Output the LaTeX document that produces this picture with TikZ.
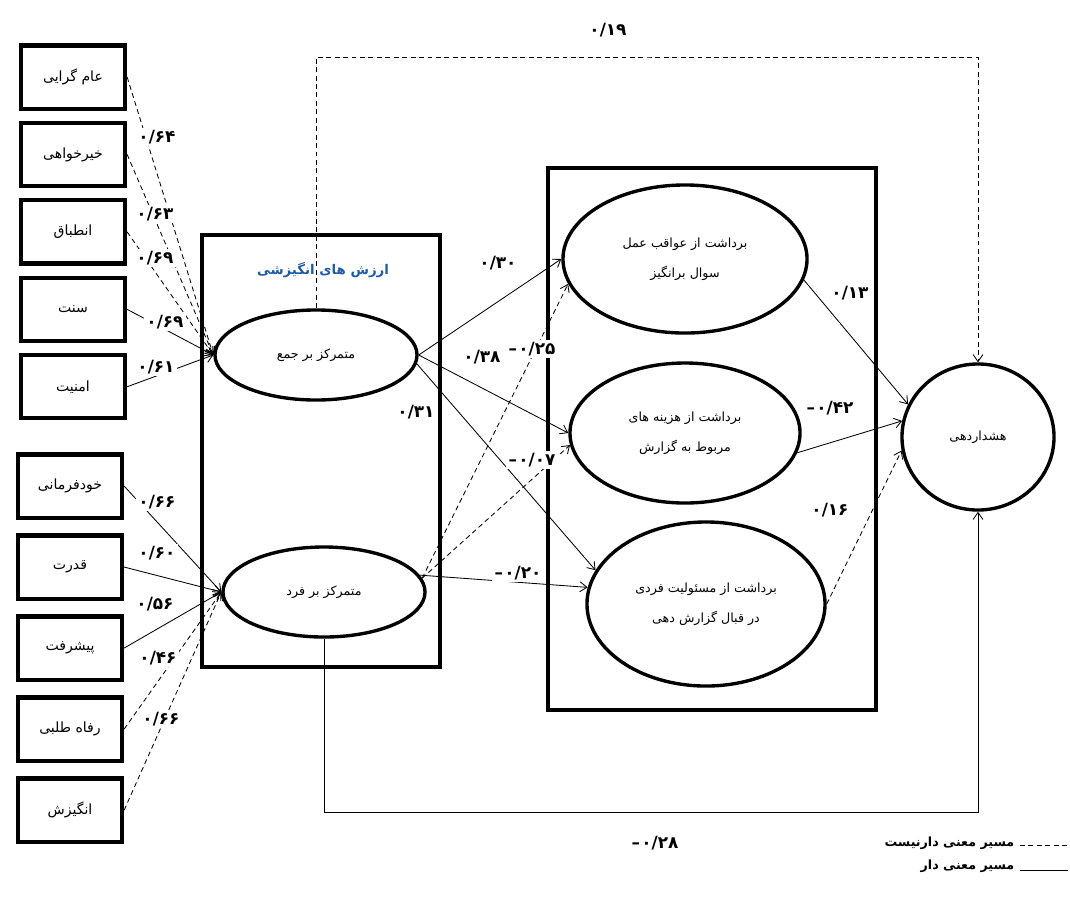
\documentclass[tikz,border=0pt]{standalone}
\usepackage{fontspec}
\newfontfamily\farsifont[Script=Arabic]{DejaVu Sans}
\newfontfamily\signfont{DejaVu Sans}
\TeXXeTstate=1
\newcommand{\fatext}[1]{\beginR#1\endR}
\newcommand{\negnum}[1]{{\signfont\bfseries –}\kern1pt#1}
\usetikzlibrary{arrows.meta, positioning, shapes.geometric}
\definecolor{titleblue}{HTML}{1F5AA6}

\begin{document}
\begin{tikzpicture}[
  x=0.025cm, y=-0.025cm,
  node distance=0.25cm,
  idxbox/.style={draw, line width=3pt, minimum width=2.6cm, minimum height=1.58cm, inner sep=2pt, font=\farsifont\fontsize{10}{12}\selectfont},
  groupbox/.style={draw, line width=2.6pt, inner sep=0pt},
  latent/.style={draw, ellipse, line width=2.4pt, inner sep=0pt, align=center, font=\farsifont\fontsize{9}{21}\selectfont},
  coef/.style={fill=white, inner sep=1.5pt, font=\farsifont\bfseries\fontsize{12}{14}\selectfont},
  sig/.style={-{Straight Barb[length=5pt,width=7pt]}, line width=0.6pt},
  nonsig/.style={sig, dash pattern=on 3.5pt off 2.5pt},
  legendtext/.style={inner sep=1pt, font=\farsifont\bfseries\fontsize{9}{11}\selectfont}
]
  \useasboundingbox (0,0) rectangle (1070,897);

  \node[idxbox] (amgarayi) at (73,77) {\fatext{عام گرایی}};
  \node[idxbox, below=of amgarayi] (kheirkhahi) {\fatext{خیرخواهی}};
  \node[idxbox, below=of kheirkhahi] (entebagh) {\fatext{انطباق}};
  \node[idxbox, below=of entebagh] (sonnat) {\fatext{سنت}};
  \node[idxbox, below=of sonnat] (amniat) {\fatext{امنیت}};

  \node[idxbox] (khodfarmani) at (70,486) {\fatext{خودفرمانی}};
  \node[idxbox, below=0.34cm of khodfarmani] (ghodrat) {\fatext{قدرت}};
  \node[idxbox, below=0.34cm of ghodrat] (pishraft) {\fatext{پیشرفت}};
  \node[idxbox, below=0.34cm of pishraft] (refah) {\fatext{رفاه طلبی}};
  \node[idxbox, below=0.34cm of refah] (angizesh) {\fatext{انگیزش}};

  \node[groupbox, minimum width=5.95cm, minimum height=10.8cm] (values) at (321,451) {};
  \node[groupbox, minimum width=8.2cm, minimum height=13.55cm] (percept) at (712,439) {};
  \node[font=\farsifont\bfseries\fontsize{9.5}{11}\selectfont, text=titleblue] (title) at (323,270) {\fatext{ارزش های انگیزشی}};

  \node[latent, minimum width=5.05cm, minimum height=2.25cm] (jam) at (316,355) {\fatext{متمرکز بر جمع}};
  \node[latent, minimum width=5.05cm, minimum height=2.25cm] (fard) at (324,592) {\fatext{متمرکز بر فرد}};
  \node[latent, minimum width=6.1cm, minimum height=3.7cm] (avagheb) at (685,259) {\fatext{برداشت از عواقب عمل}\\\fatext{سوال برانگیز}};
  \node[latent, minimum width=5.75cm, minimum height=3.5cm] (hazine) at (685,433) {\fatext{برداشت از هزینه های}\\\fatext{مربوط به گزارش}};
  \node[latent, minimum width=5.95cm, minimum height=4.1cm] (masouliat) at (706,604) {\fatext{برداشت از مسئولیت فردی}\\\fatext{در قبال گزارش دهی}};
  \node[latent, minimum width=3.8cm, minimum height=3.65cm] (hoshdar) at (978,437) {\fatext{هشداردهی}};

  \draw[nonsig] (amgarayi.east) -- (jam.west);
  \draw[nonsig] (kheirkhahi.east) -- (jam.west);
  \draw[nonsig] (entebagh.east) -- (jam.west);
  \draw[sig] (sonnat.east) -- (jam.west);
  \draw[sig] (amniat.east) -- (jam.west);

  \draw[sig] (khodfarmani.east) -- (fard.west);
  \draw[sig] (ghodrat.east) -- (fard.west);
  \draw[sig] (pishraft.east) -- (fard.west);
  \draw[nonsig] (refah.east) -- (fard.west);
  \draw[nonsig] (angizesh.east) -- (fard.west);

  \draw[sig] (jam.east) -- (avagheb.west);
  \draw[sig] (jam.east) -- (hazine.west);
  \draw[sig] (jam.-5) -- (masouliat.163);
  \draw[nonsig] (fard.8) -- (avagheb.192);
  \draw[nonsig] (fard.8) -- (hazine.186);
  \draw[sig] (fard.10) -- (masouliat.172);

  \draw[sig] (avagheb.-10) -- (hoshdar.155);
  \draw[sig] (hazine.-10) -- (hoshdar.168);
  \draw[nonsig] (masouliat.east) -- (hoshdar.190);

  \coordinate (topline) at (650,57);
  \coordinate (botline) at (650,812);
  \draw[nonsig] (jam.north) |- (topline) -| (hoshdar.north);
  \draw[sig] (fard.south) |- (botline) -| (hoshdar.south);

  \node[coef] (c64) at (157,137) {۰/۶۴};
  \node[coef] (c63) at (155,214) {۰/۶۳};
  \node[coef] (c69a) at (155,258) {۰/۶۹};
  \node[coef] (c69b) at (165,322) {۰/۶۹};
  \node[coef] (c61) at (156,367) {۰/۶۱};
  \node[coef] (c66a) at (157,502) {۰/۶۶};
  \node[coef] (c60) at (157,553) {۰/۶۰};
  \node[coef] (c56) at (155,604) {۰/۵۶};
  \node[coef] (c46) at (158,658) {۰/۴۶};
  \node[coef] (c66b) at (161,719) {۰/۶۶};

  \node[coef] (c30) at (498,263) {۰/۳۰};
  \node[coef] (c25) at (532,349) {\negnum{۰/۲۵}};
  \node[coef] (c38) at (482,357) {۰/۳۸};
  \node[coef] (c31) at (416,412) {۰/۳۱};
  \node[coef] (c07) at (532,460) {\negnum{۰/۰۷}};
  \node[coef] (c20) at (518,573) {\negnum{۰/۲۰}};
  \node[coef] (c13) at (850,293) {۰/۱۳};
  \node[coef] (c42) at (830,408) {\negnum{۰/۴۲}};
  \node[coef] (c16) at (830,510) {۰/۱۶};
  \node[coef] (c19) at (608,30) {۰/۱۹};
  \node[coef] (c28) at (655,843) {\negnum{۰/۲۸}};

  \coordinate (nsA) at (1020,845);
  \coordinate (nsB) at (1068,845);
  \coordinate (sA) at (1020,870);
  \coordinate (sB) at (1068,870);
  \draw[line width=0.6pt, dash pattern=on 3.5pt off 2.5pt] (nsA) -- (nsB);
  \draw[line width=0.6pt] (sA) -- (sB);
  \node[legendtext, anchor=east] (nstext) at (1016,843) {\fatext{مسیر معنی دارنیست}};
  \node[legendtext, anchor=east] (stext) at (1016,866) {\fatext{مسیر معنی دار}};
\end{tikzpicture}
\end{document}
